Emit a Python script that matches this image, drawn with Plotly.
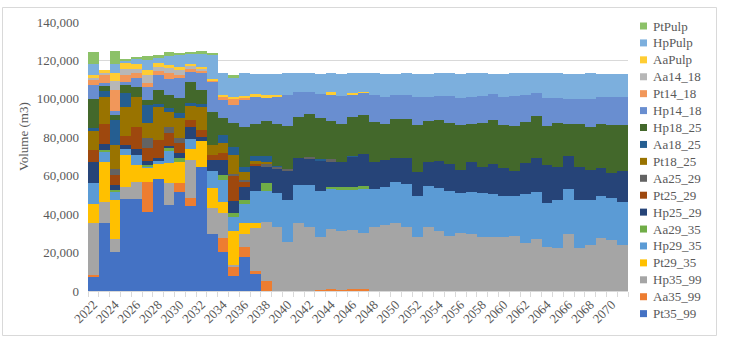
import plotly.graph_objects as go

years = list(range(2022, 2072))
tick_years = list(range(2022, 2071, 2))

# series values, bottom of stack first (m3), years 2022..2071
Pt35_99 = [7500, 35500, 20100, 47800, 47800, 41200, 58300, 44700, 51600, 44000, 64600, 29500, 20400, 8000, 17800, 9200] + [0] * 34
Aa35_99 = [900, 0, 0, 0, 0, 15300, 0, 0, 4400, 4300, 0, 0, 7000, 4700, 5200, 1000,
           5200, 0, 0, 0, 0, 500, 900, 700, 1000, 900] + [0] * 24
Hp35_99 = [27000, 10900, 6900, 6400, 9000, 0, 0, 11300, 0, 19800, 0, 13500, 13000, 1000, 6900, 22400,
           30800, 33400, 25600, 35500, 33400, 27700, 31200, 30700, 30700, 29100, 33100,
           34300, 35500, 33100, 28200, 33400, 31400, 28800, 30000, 29500, 27900, 28200, 28200,
           28600, 24800, 26900, 23000, 22500, 29600, 22500, 23900, 27400, 26500, 23900]
Pt29_35 = [10000, 21000, 20300, 16500, 8700, 7700, 7700, 10700, 10900, 6000, 13500, 10400, 6000, 17500, 5700, 2900] + [0] * 34
Hp29_35 = [11000, 5000, 4000, 3100, 5200, 800, 1500, 6500, 0, 4800, 0, 9100, 11300, 7500, 9900, 16800,
           15900, 17700, 21700, 19600, 21700, 23900, 21000, 21100, 21100, 22900, 19900,
           19900, 21300, 22400, 21100, 21100, 22000, 23200, 20800, 22200, 22900, 22500, 21100,
           20800, 25600, 24800, 22900, 24800, 23700, 24800, 23400, 22000, 21700, 22500]
Aa29_35 = [0, 1000, 1200, 0, 0, 800, 0, 1000, 2100, 0, 0, 0, 2600, 2000, 2100, 0,
           4300, 0, 0, 0, 0, 0, 1200, 1400, 1400, 1700] + [0] * 24
Hp25_29 = [10700, 2900, 2600, 2100, 3100, 1700, 1500, 1500, 2600, 6500, 2000, 5600, 7800, 6000, 6600, 12500,
           8300, 12500, 15300, 13900, 13900, 15900, 13300, 13300, 15600, 16600, 14200,
           14200, 12500, 13500, 12700, 12700, 14400, 14000, 12100, 15600, 13500, 15600, 14900,
           13000, 16300, 17700, 19600, 17000, 16800, 17300, 15600, 14400, 13300, 15900]
Pt25_29 = [6100, 10800, 5200, 4900, 11600, 6800, 9500, 6500, 5200, 3500, 3500, 2600, 3500, 13500, 2600, 1400] + [0] * 34
Aa25_29 = [0, 0, 3000, 0, 0, 5100, 0, 3000, 2600, 0, 0, 0, 0, 800, 900, 0,
           1400, 1000, 700, 0, 700, 0, 900] + [0] * 27
Pt18_25 = [10000, 13800, 12600, 15000, 15600, 7800, 17300, 8000, 10400, 7300, 12100, 5400, 5200, 10000, 4300, 1700,
           1200] + [0] * 33
Aa18_25 = [1700, 3100, 13000, 7000, 0, 9500, 1700, 2000, 2600, 1700, 1800, 0, 4300, 3800, 2600, 2600,
           3100, 300, 0, 0, 0, 700, 0, 0, 700] + [0] * 25
Hp18_25 = [15200, 3200, 2600, 4600, 5200, 2600, 7000, 7000, 7800, 10900, 6900, 17100, 8700, 12700, 20800, 16500,
           18500, 22200, 22500, 21700, 22400, 21500, 20100, 19900, 20100, 20300, 20800,
           18700, 20400, 20300, 24300, 21300, 21100, 21500, 23700, 19400, 23200, 22500, 22000,
           23400, 21300, 21700, 20300, 22900, 17000, 22200, 22200, 23000, 24800, 23900]
Hp14_18 = [7000, 1000, 2300, 1600, 4400, 6900, 7800, 8000, 10400, 5200, 9500, 15600, 9500, 9500, 13900, 13900,
           12100, 14200, 16100, 13000, 11600, 12500, 13900, 14200, 11800, 11600, 13900,
           13900, 12100, 12700, 14700, 12500, 12500, 13900, 14000, 14400, 13900, 13500, 14700,
           15600, 13900, 11800, 14400, 13500, 13000, 13300, 14600, 14200, 14700, 14700]
Pt14_18 = [2500, 4000, 10700, 3500, 3100, 2300, 2200, 3000, 1700, 1800, 900, 800, 1500, 3000, 1400, 0] + [0] * 34
Aa14_18 = [1500, 1400, 4900, 3000, 2000, 3800, 2300, 3000, 2600, 1200, 900] + [0] * 39
AaPulp = [1300, 1500, 3800, 3500, 2300, 2600, 1700, 1500, 1700, 1400, 800, 700, 1100, 1200, 700, 1400,
          1000, 500, 0, 0, 0, 0, 900, 0, 900, 700] + [0] * 24
HpPulp = [5500, 0, 5200, 1000, 3000, 5100, 3000, 4500, 6100, 5200, 7000, 12700, 11300, 9500, 11800, 10400,
          11100, 11300, 11300, 9500, 9500, 10400, 9900, 11800, 9900, 9400, 11300,
          12100, 11300, 11300, 12100, 12100, 11800, 11800, 12500, 12100, 11800, 10700, 12100,
          11800, 11300, 10400, 13000, 12500, 13000, 13000, 13500, 12100, 12100, 12100]
PtPulp = [6600, 0, 6400, 800, 1000, 2500, 1500, 2000, 1300, 800, 1200, 1000, 0, 1800] + [0] * 36

series_names = ["Pt35_99", "Aa35_99", "Hp35_99", "Pt29_35", "Hp29_35", "Aa29_35", "Hp25_29", "Pt25_29",
                "Aa25_29", "Pt18_25", "Aa18_25", "Hp18_25", "Hp14_18", "Pt14_18", "Aa14_18", "AaPulp",
                "HpPulp", "PtPulp"]
series_values = [Pt35_99, Aa35_99, Hp35_99, Pt29_35, Hp29_35, Aa29_35, Hp25_29, Pt25_29,
                 Aa25_29, Pt18_25, Aa18_25, Hp18_25, Hp14_18, Pt14_18, Aa14_18, AaPulp, HpPulp, PtPulp]
colors = ["#4472C4", "#ED7D31", "#A5A5A5", "#FFC000", "#5B9BD5", "#70AD47", "#264478", "#9E480E",
          "#636363", "#997300", "#255E91", "#43682B", "#698ED0", "#F1975A", "#B7B7B7", "#FFCD33",
          "#7CAFDD", "#8CC168"]

FONT = "Liberation Serif"
TXT = "#595959"

# plot area geometry in pixels
W, H = 729, 343
L, R, T, B = 88, 101, 22, 52
PW, PH = W - L - R, H - T - B


def px(x):
    return (x - L) / PW


def py(y):
    return (H - B - y) / PH


fig = go.Figure()
for name, vals, col in zip(series_names, series_values, colors):
    fig.add_trace(go.Bar(x=years, y=vals, name=name, showlegend=False,
                         marker=dict(color=col, line=dict(width=0))))

shapes = []
annotations = []
# manual legend (top entry = last series)
for i, (name, col) in enumerate(zip(series_names[::-1], colors[::-1])):
    yc = 26 + 16.92 * i
    shapes.append(dict(type="rect", xref="paper", yref="paper",
                       x0=px(640), x1=px(647), y0=py(yc + 3.5), y1=py(yc - 3.5),
                       fillcolor=col, line=dict(width=0)))
    annotations.append(dict(text=name, xref="paper", yref="paper", x=px(651), y=py(yc),
                            xanchor="left", yanchor="middle", showarrow=False,
                            font=dict(family=FONT, size=13, color=TXT)))

# chart border
shapes.append(dict(type="rect", xref="paper", yref="paper", x0=px(2.5), x1=px(716.5),
                   y0=py(335.5), y1=py(7.5), line=dict(color="#D9D9D9", width=1),
                   fillcolor="rgba(0,0,0,0)", layer="above"))

annotations.append(dict(text="Volume (m3)", xref="paper", yref="paper", x=px(23), y=py(137),
                        textangle=-90, showarrow=False, xanchor="center", yanchor="middle",
                        font=dict(family=FONT, size=13, color=TXT)))

fig.update_layout(
    width=W, height=H,
    margin=dict(l=L, r=R, t=T, b=B, pad=0),
    barmode="stack", bargap=0,
    plot_bgcolor="white", paper_bgcolor="white",
    font=dict(family=FONT, size=13, color=TXT),
    shapes=shapes, annotations=annotations,
    showlegend=False,
)
fig.update_xaxes(range=[2021.5, 2071.5], tickmode="array", tickvals=tick_years,
                 ticktext=[str(y) for y in tick_years], tickangle=-45,
                 showgrid=False, showline=True, linecolor="#D9D9D9", linewidth=1,
                 ticks="", zeroline=False,
                 minor=dict(ticks="outside", tick0=2021.5, dtick=1, ticklen=5,
                            tickcolor="#D9D9D9", showgrid=False),
                 tickfont=dict(family=FONT, size=13, color=TXT))
fig.update_yaxes(range=[0, 140000], dtick=20000, tickformat=",", showgrid=True,
                 gridcolor="#D9D9D9", gridwidth=1, zeroline=False, showline=False,
                 ticks="", ticklabelstandoff=8,
                 tickfont=dict(family=FONT, size=13, color=TXT))

fig.write_html("out.html", config={"displayModeBar": False},
               post_script="document.body.style.margin='0';")
